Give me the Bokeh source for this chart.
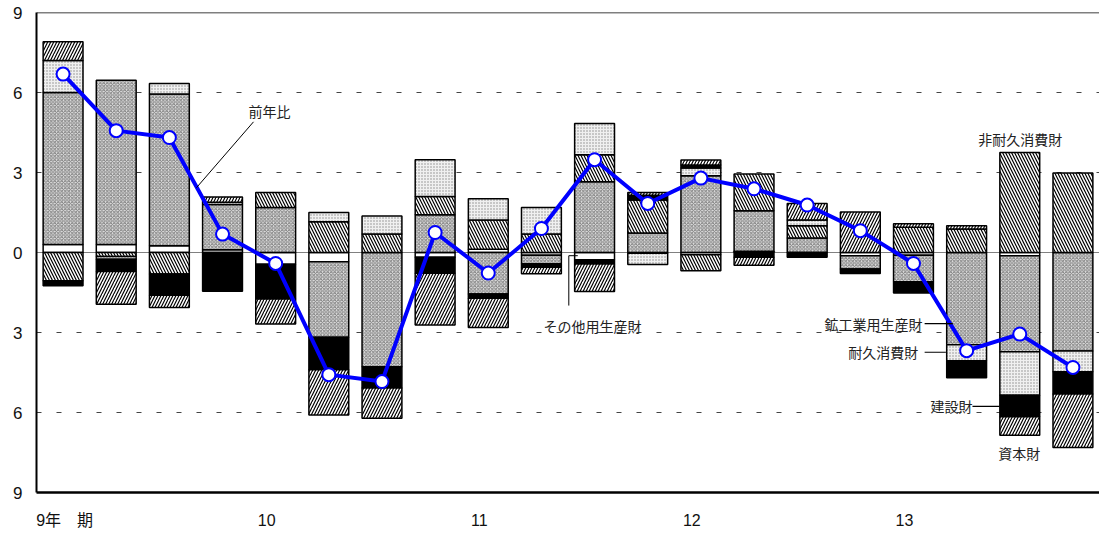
import numpy as np
from bokeh.plotting import figure
from bokeh.models import ColumnDataSource, FixedTicker, Span, Range1d
from bokeh.core.properties import value
from bokeh.embed import file_html
from bokeh.resources import INLINE

# ---------------- data ----------------
quarters = list(range(20))
x_tick_pos = [0.03, 3.83, 7.83, 11.83, 15.83]
x_tick_labels = ["9年　期", "10", "11", "12", "13"]
y_ticks = [-9, -6, -3, 0, 3, 6, 9]
y_tick_labels = ["9", "6", "3", "0", "3", "6", "9"]

# contributions (percentage points), stacking order from zero outwards
other_prod = [0.3, 0.3, 0.25, 0.1, -0.44, -0.35, 0.0, -0.18, 0.12, -0.1,
              -0.27, -0.03, -0.08, 0.05, 0.0, -0.12, -0.1, 0.0, -0.12, 0.0]       # その他用生産財
mining_prod = [5.7, 6.16, 5.69, 1.7, 1.69, -2.83, -4.28, 1.42, -1.56, -0.32,
               2.65, 0.73, 2.88, 1.52, 0.54, -0.5, -1.0, -3.46, -3.6, -3.69]     # 鉱工業用生産財
nondurable = [-1.06, -0.15, -0.81, 0.0, 0.56, 1.15, 0.69, 0.68, 1.1, 0.69,
              1.02, 1.24, -0.6, 1.37, 0.46, 0.0, 0.95, 0.88, 3.75, 2.98]         # 非耐久消費財
durable = [1.2, -0.1, 0.4, 0.08, 0.0, 0.35, 0.68, 1.38, 0.8, 1.0,
           1.17, -0.42, 0.29, 0.0, 0.22, 0.0, 0.0, -0.6, -1.63, -0.78]           # 耐久消費財
construction = [-0.19, -0.46, -0.79, -1.45, -1.3, -1.22, -0.8, -0.6, -0.16, -0.13,
                -0.16, 0.18, 0.11, -0.18, -0.18, -0.17, -0.42, -0.64, -0.81, -0.84]  # 建設財
capital = [0.7, -1.23, -0.46, 0.2, -0.94, -1.69, -1.14, -1.94, -1.09, -0.25,
           -1.03, 0.1, 0.19, -0.3, 0.62, 1.52, 0.13, 0.12, -0.69, -2.0]          # 資本財
yoy = [6.69, 4.57, 4.31, 0.69, -0.41, -4.58, -4.84, 0.75, -0.77, 0.90,
       3.48, 1.84, 2.79, 2.39, 1.78, 0.82, -0.41, -3.68, -3.06, -4.31]          # 前年比

# ---------------- styles ----------------
styles = [
    (other_prod, dict(fill_color="white")),
    (mining_prod, dict(fill_color="#e2e2e2", hatch_pattern="diagonal_cross",
                       hatch_color="#808080", hatch_scale=3.5, hatch_weight=1)),
    (nondurable, dict(fill_color="white", hatch_pattern="left_diagonal_line",
                      hatch_color="black", hatch_scale=6, hatch_weight=1.2)),
    (durable, dict(fill_color="#f0f0f0", hatch_pattern="dot",
                   hatch_color="#8a8a8a", hatch_scale=3, hatch_weight=1.2)),
    (construction, dict(fill_color="black")),
    (capital, dict(fill_color="white", hatch_pattern="right_diagonal_line",
                   hatch_color="black", hatch_scale=6, hatch_weight=1.2)),
]

p = figure(frame_width=1063, frame_height=480,
           x_range=Range1d(-0.5, 19.5), y_range=Range1d(-9, 9),
           output_backend="svg", toolbar_location=None,
           min_border_left=36, min_border_right=0, min_border_top=12, min_border_bottom=43)
p.outline_line_color = None
p.background_fill_color = "white"

# grid
p.xgrid.visible = False
p.ygrid.ticker = FixedTicker(ticks=[-6, -3, 3, 6])
p.ygrid.grid_line_color = "#444444"
p.ygrid.grid_line_dash = "5 15"
p.ygrid.grid_line_width = 1
p.add_layout(Span(location=0, dimension="width", line_color="#808080",
                  line_width=1, level="underlay"))
p.add_layout(Span(location=9, dimension="width", line_color="black", line_width=1.5))

# stacked bars
pos = np.zeros(20)
neg = np.zeros(20)
for vals, st in styles:
    v = np.array(vals, dtype=float)
    bottom = np.where(v >= 0, pos, neg)
    top = bottom + v
    pos = np.where(v >= 0, top, pos)
    neg = np.where(v < 0, top, neg)
    mask = v != 0
    src = ColumnDataSource(dict(x=np.array(quarters)[mask], bottom=bottom[mask], top=top[mask]))
    p.vbar(x="x", bottom="bottom", top="top", width=0.75, source=src,
           line_color="black", line_width=1.5, **st)

# year-on-year line
p.line(quarters, yoy, line_color="#0000ff", line_width=4)
p.scatter(quarters, yoy, size=13, fill_color="white", line_color="#0000ff", line_width=2)

# annotations
font = value("Noto Sans CJK JP")
p.text(x=[3.884], y=[5.31], text=["前年比"], text_font=font, text_font_size="14px",
       text_align="center", text_baseline="middle", text_color="#222222")
p.segment(x0=[3.583], y0=[4.90], x1=[2.51], y1=[2.43], line_color="black", line_width=1)

p.text(x=[9.961], y=[-2.74], text=["その他用生産財"], text_font=font, text_font_size="14px",
       text_align="center", text_baseline="middle", text_color="#222222")
p.segment(x0=[9.515, 9.515], y0=[-0.12, -0.12], x1=[9.684, 9.515], y1=[-0.12, -1.99],
          line_color="black", line_width=1)

p.text(x=[16.17, 16.09, 17.11], y=[-2.67, -3.74, -5.77],
       text=["鉱工業用生産財", "耐久消費財", "建設財"], text_font=font, text_font_size="14px",
       text_align="right", text_baseline="middle", text_color="#222222")
p.segment(x0=[16.21, 16.21, 17.11], y0=[-2.67, -3.74, -5.77],
          x1=[16.74, 16.61, 17.62], y1=[-2.67, -3.74, -5.77],
          line_color="black", line_width=1.2)

p.text(x=[17.99, 18.01], y=[-7.5, 4.25], text=["資本財", "非耐久消費財"], text_font=font,
       text_font_size="14px", text_align="center", text_baseline="middle", text_color="#222222")

# axes
p.yaxis.ticker = FixedTicker(ticks=y_ticks)
p.yaxis.major_label_overrides = dict(zip(y_ticks, y_tick_labels))
p.yaxis.major_tick_out = 0
p.yaxis.major_tick_in = 0
p.yaxis.minor_tick_out = 0
p.yaxis.minor_tick_in = 0
p.yaxis.major_label_standoff = 14
p.yaxis.axis_line_width = 2
p.yaxis.axis_line_color = "black"
p.yaxis.major_label_text_font = "Liberation Sans"
p.yaxis.major_label_text_font_size = "17px"
p.yaxis.major_label_text_color = "#111111"

p.xaxis.ticker = FixedTicker(ticks=x_tick_pos)
p.xaxis.major_label_overrides = dict(zip(x_tick_pos, x_tick_labels))
p.xaxis.major_tick_out = 0
p.xaxis.major_tick_in = 0
p.xaxis.minor_tick_out = 0
p.xaxis.minor_tick_in = 0
p.xaxis.major_label_standoff = 19
p.xaxis.axis_line_width = 2.5
p.xaxis.axis_line_color = "black"
p.xaxis.major_label_text_font = "Liberation Sans, Noto Sans CJK JP"
p.xaxis.major_label_text_font_size = "16px"
p.xaxis.major_label_text_color = "#111111"

open("out.html", "w").write(file_html(p, INLINE))
